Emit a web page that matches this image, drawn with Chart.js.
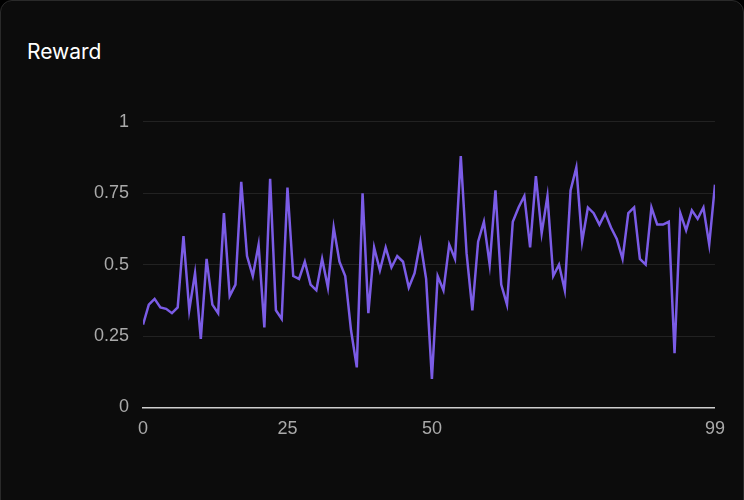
<!DOCTYPE html>
<html>
<head>
<meta charset="utf-8">
<script src="https://cdn.jsdelivr.net/npm/chart.js@4"></script>
<style>
  body { margin: 0; background: #000; font-family: Inter, "Open Sans", sans-serif; }
  .card { position: absolute; left: 0; top: 0; width: 742px; height: 520px; background: #0c0c0c; border: 1px solid #2a2a2a; border-radius: 12px; }
  .title { position: absolute; left: 27px; top: 39px; color: #fff; font-size: 21px; }
  .wrap { position: absolute; left: 80px; top: 97px; width: 648px; height: 346px; }
</style>
</head>
<body>
<div class="card"></div>
<div class="title">Reward</div>
<div class="wrap"><canvas id="c"></canvas></div>
<script>
// valori
var reward = [0.29,0.36,0.38,0.35,0.345,0.33,0.35,0.6,0.34,0.47,0.24,0.52,0.36,0.33,0.68,0.39,0.43,0.79,0.53,0.46,
  0.57,0.28,0.8,0.34,0.31,0.77,0.46,0.45,0.51,0.43,0.41,0.52,0.42,0.63,0.51,0.46,0.27,0.14,0.75,0.33,
  0.56,0.48,0.56,0.49,0.53,0.51,0.42,0.47,0.58,0.45,0.1,0.46,0.41,0.57,0.52,0.88,0.54,0.34,0.58,0.65,
  0.5,0.76,0.43,0.36,0.65,0.7,0.74,0.56,0.81,0.61,0.74,0.46,0.5,0.41,0.76,0.84,0.58,0.7,0.68,0.64,
  0.68,0.63,0.59,0.52,0.68,0.7,0.52,0.5,0.7,0.64,0.64,0.65,0.19,0.68,0.62,0.69,0.66,0.7,0.57,0.78];
var steps = reward.map(function(v, i) { return i; });
var xTicks = [0, 25, 50, 99];
var yTicks = [0, 0.25, 0.5, 0.75, 1];

var punti = steps.map(function(s, i) { return { x: s, y: reward[i] }; });

new Chart(document.getElementById('c'), {
  type: 'line',
  data: {
    datasets: [{
      label: 'Reward',
      data: punti,
      borderColor: '#7b5ce6',
      borderWidth: 2.5,
      pointRadius: 0,
      tension: 0
    }]
  },
  options: {
    responsive: true,
    maintainAspectRatio: false,
    animation: false,
    plugins: { legend: { display: false }, tooltip: { enabled: false } },
    scales: {
      x: {
        type: 'linear', min: 0, max: 99,
        afterBuildTicks: function(ax) { ax.ticks = xTicks.map(function(v) { return { value: v }; }); },
        grid: { display: false },
        border: { color: '#cfcfcf', width: 1.5 },
        ticks: { color: '#aaa', font: { size: 18 }, maxRotation: 0, autoSkip: false,
          callback: function(v) { return String(v); } }
      },
      y: {
        min: 0, max: 1,
        afterBuildTicks: function(ax) { ax.ticks = yTicks.map(function(v) { return { value: v }; }); },
        grid: { color: '#222', drawTicks: false },
        border: { display: false },
        ticks: { color: '#aaa', font: { size: 18 }, padding: 14,
          callback: function(v) { return String(v); } }
      }
    }
  }
});
</script>
</body>
</html>
